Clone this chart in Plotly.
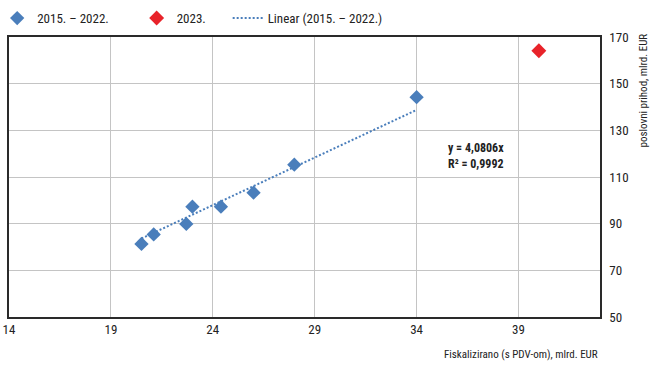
import plotly.graph_objects as go

# Fiscalised turnover (incl. VAT) vs. business revenue, bn EUR
years_main = ["2015", "2016", "2017", "2018", "2019", "2020", "2021", "2022"]
fisk_main = [20.5, 21.1, 22.7, 23.0, 24.4, 26.0, 28.0, 34.0]
prihod_main = [81.3, 85.4, 89.9, 97.3, 97.3, 103.3, 115.3, 144.2]

fisk_2023 = [40.0]
prihod_2023 = [164.1]

# Linear trend through the origin, fitted on 2015-2022
trend_slope = 4.0806
trend_r2 = 0.9992

x_ticks = [14, 19, 24, 29, 34, 39]
y_ticks = [50, 70, 90, 110, 130, 150, 170]

BLUE = "#4a7ebb"
RED = "#e8232a"
FONT = "Liberation Sans Narrow, Arial Narrow, Roboto Condensed, sans-serif"
TXT = "#222222"

fig = go.Figure()

fig.add_trace(go.Scatter(
    x=fisk_main, y=prihod_main, mode="markers", name="2015. – 2022.",
    marker=dict(symbol="diamond", size=11, color=BLUE, line=dict(width=0)),
    legend="legend",
))
fig.add_trace(go.Scatter(
    x=fisk_2023, y=prihod_2023, mode="markers", name="2023.",
    marker=dict(symbol="diamond", size=11.5, color=RED, line=dict(width=0)),
    legend="legend2",
))
trend_x = [min(fisk_main), max(fisk_main)]
trend_y = [trend_slope * v for v in trend_x]
fig.add_trace(go.Scatter(
    x=trend_x, y=trend_y, mode="lines", name="Linear (2015. – 2022.)",
    line=dict(color=BLUE, width=2, dash="2px,2px"),
    legend="legend3",
))

fig.add_annotation(
    x=36.9, y=119.0, xref="x", yref="y", showarrow=False, align="center",
    text=f"<b>y = {str(trend_slope).replace('.', ',')}x</b><br><b>R² = {str(trend_r2).replace('.', ',')}</b>",
    font=dict(family=FONT, size=12, color=TXT),
)

# Axis titles
fig.add_annotation(
    x=1.0, y=-0.105, xref="paper", yref="paper", xanchor="right", yanchor="top",
    text="Fiskalizirano (s PDV-om), mlrd. EUR", showarrow=False,
    font=dict(family=FONT, size=11, color=TXT),
)
fig.add_annotation(
    x=1.0, y=1.0, xref="paper", yref="paper", xanchor="left", yanchor="top",
    xshift=34, yshift=5, textangle=-90,
    text="poslovni prihod, mlrd. EUR", showarrow=False,
    font=dict(family=FONT, size=11, color=TXT),
)

fig.update_xaxes(
    range=[14, 43], tickvals=x_ticks, ticktext=[str(v) for v in x_ticks],
    showgrid=True, gridcolor="#c4c4c4", gridwidth=1,
    showline=True, linecolor="#2a2a2a", linewidth=1.5, mirror=True,
    ticks="", zeroline=False, automargin=False,
    tickfont=dict(family=FONT, size=13, color=TXT),
)
fig.update_yaxes(
    range=[50, 170], tickvals=y_ticks, side="right",
    showgrid=True, gridcolor="#c4c4c4", gridwidth=1,
    showline=True, linecolor="#2a2a2a", linewidth=1.5, mirror=True,
    ticks="", zeroline=False, ticklabelstandoff=5, automargin=False,
    tickfont=dict(family=FONT, size=13, color=TXT),
)

legend_common = dict(
    orientation="h", y=1.014, yanchor="bottom", xanchor="left",
    font=dict(family=FONT, size=13, color=TXT),
    bgcolor="rgba(0,0,0,0)",
)

fig.update_layout(
    width=652, height=365,
    margin=dict(l=9, r=52, t=37, b=48, autoexpand=False),
    plot_bgcolor="white", paper_bgcolor="white",
    font=dict(family=FONT, size=13, color=TXT),
    showlegend=True,
    legend=dict(x=-0.020, **legend_common),
    legend2=dict(x=0.216, **legend_common),
    legend3=dict(x=0.370, **legend_common),
)

fig.write_html("out.html")
